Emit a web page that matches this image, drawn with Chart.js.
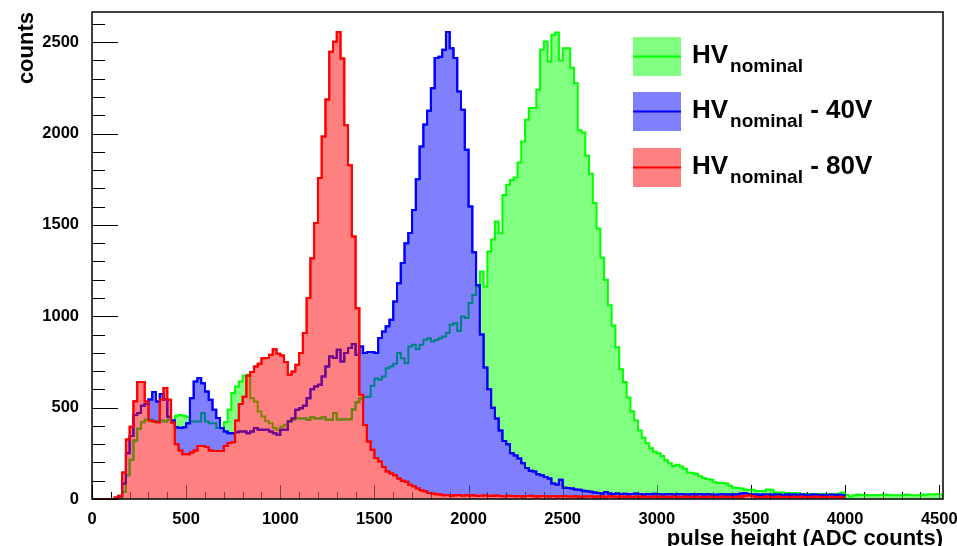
<!DOCTYPE html>
<html>
<head>
<meta charset="utf-8">
<script src="https://cdn.jsdelivr.net/npm/chart.js@4.4.0/dist/chart.umd.min.js"></script>
<style>
  html, body { margin: 0; padding: 0; background: #fff; }
  #wrap { width: 957px; height: 546px; }
</style>
</head>
<body>
<div id="wrap"><canvas id="pulseChart"></canvas></div>
<script>
// histogram binning (ADC counts)
const binWidth = 20;
const xMax = 4520;
const yMax = 2665;

// counts per 20-ADC bin
const hvNominal = [
  0,0,0,0,0,0,0,5,40,130,
  215,320,385,420,433,433,424,424,430,424,
  433,420,455,460,455,450,424,424,424,470,
  424,415,415,388,388,420,488,580,616,643,
  674,680,552,534,479,452,425,415,388,379,
  397,406,425,433,443,440,440,433,448,440,
  440,448,433,433,470,435,435,437,437,490,
  530,550,558,560,620,660,652,670,716,725,
  740,799,770,743,835,844,820,844,871,880,
  862,870,880,889,908,953,962,920,999,990,
  1072,1117,1163,1245,1163,1354,1420,1518,1454,1664,
  1720,1746,1760,1841,1956,2075,2139,2139,2239,2458,
  2503,2394,2540,2553,2400,2467,2467,2360,2275,2018,
  2005,1880,1780,1620,1480,1320,1200,1060,950,830,
  710,640,555,480,430,375,335,305,278,258,
  250,235,212,195,180,188,178,165,145,142,
  138,124,115,110,105,92,87,87,85,72,
  62,60,58,52,50,51,42,44,42,52,
  50,36,36,35,33,33,31,33,28,27,
  27,26,28,27,25,27,26,28,30,36,
  22,14,20,24,22,23,20,22,21,22,
  24,22,20,20,21,22,25,22,20,21,
  24,23,26,25,27,26
];

const hvMinus40 = [
  0,0,0,0,0,0,0,15,85,250,
  345,460,470,510,520,545,585,534,575,545,
  450,430,392,388,392,415,552,643,662,634,
  588,543,488,443,388,370,360,360,365,369,
  369,360,370,388,379,379,379,369,360,352,
  379,379,425,440,488,497,510,552,600,616,
  625,671,725,780,771,817,753,799,826,848,
  789,835,799,805,805,799,881,917,945,981,
  1081,1181,1291,1400,1455,1582,1750,1929,2050,2124,
  2248,2413,2420,2458,2555,2467,2413,2230,2130,1911,
  1601,1350,1170,900,720,600,500,440,375,318,
  300,250,238,222,195,170,155,150,135,130,
  120,112,85,80,105,62,60,58,52,50,
  45,42,40,35,33,30,38,30,28,30,
  27,29,26,28,30,27,25,28,26,29,
  27,25,26,28,24,26,27,25,24,26,
  25,27,24,26,25,23,25,26,24,25,
  24,26,30,32,28,25,24,23,25,24,
  23,25,24,22,24,23,25,22,24,23,
  22,24,23,21,23,22,24,22,23,22
];

const hvMinus80 = [
  0,0,0,0,0,0,8,18,145,325,
  395,535,640,640,534,430,425,420,545,607,
  543,418,300,265,245,245,255,265,290,290,
  285,265,262,262,262,290,306,310,430,520,
  560,675,695,725,740,770,771,790,820,795,
  785,750,680,698,735,799,908,1100,1318,1510,
  1756,1984,2186,2447,2502,2555,2410,2045,1827,1436,
  1044,570,405,315,270,225,205,175,150,140,
  130,112,100,95,78,70,58,48,42,33,
  30,26,24,20,22,18,20,22,18,20,
  19,21,17,18,20,16,18,19,17,15,
  18,16,15,17,14,16,18,15,14,16,
  15,13,17,14,15,16,13,14,15,12,
  14,13,15,12,14,13,12,15,13,12,
  14,12,13,11,14,12,13,12,11,13,
  12,14,11,12,13,11,12,14,12,11,
  13,12,11,12,14,12,11,13,12,12,
  11,13,12,18,20,16,12,11,12,13,
  11,12,13,11,12,12,11,13,12,11,
  12,11,13,12,11,12,12,11,12,11
];

const xTickValues = [0, 500, 1000, 1500, 2000, 2500, 3000, 3500, 4000, 4500];
const yTickValues = [0, 500, 1000, 1500, 2000, 2500];

// legend text: main, subscript, suffix
const legendText = [
  ['HV', 'nominal', ''],
  ['HV', 'nominal', ' - 40V'],
  ['HV', 'nominal', ' - 80V']
];

const FONT = '"Liberation Sans", Arial, Helvetica, sans-serif';

// line colour, fill colour, and how its line looks through the blue / red fills
const GREEN = { line: '#00ff00', fill: '#80ff80', underBlue: '#008080', underRed: '#808000' };
const BLUE = { line: '#0000ff', fill: '#8080ff', underRed: '#800080' };
const RED = { line: '#ff0000', fill: '#ff8080' };

// bin values -> points on the left bin edges, closed at the right edge
function toSteps(values) {
  const pts = values.map((v, i) => ({ x: i * binWidth, y: v }));
  pts.push({ x: values.length * binWidth, y: values[values.length - 1] });
  return pts;
}

function strokeTicks(chart) {
  const { ctx, chartArea: a, scales: { x, y } } = chart;
  ctx.beginPath();
  for (let v = 0; v <= 4500; v += 100) {
    const px = Math.round(x.getPixelForValue(v)) + 0.5;
    const len = v % 500 === 0 ? 14 : 7;
    ctx.moveTo(px, a.bottom);
    ctx.lineTo(px, a.bottom - len);
  }
  for (let v = 0; v <= 2600; v += 100) {
    const py = Math.round(y.getPixelForValue(v)) + 0.5;
    const len = v % 500 === 0 ? 26 : 13;
    ctx.moveTo(a.left, py);
    ctx.lineTo(a.left + len, py);
  }
  ctx.stroke();
}

// clip to the area under a dataset's step line
function clipUnder(chart, index) {
  const { ctx, scales: { y } } = chart;
  const el = chart.getDatasetMeta(index).dataset;
  const pts = el.points;
  const base = y.getPixelForValue(0);
  ctx.beginPath();
  el.path(ctx);
  ctx.lineTo(pts[pts.length - 1].x, base);
  ctx.lineTo(pts[0].x, base);
  ctx.closePath();
  ctx.clip();
}

function strokeLine(chart, index, color) {
  const { ctx } = chart;
  ctx.beginPath();
  chart.getDatasetMeta(index).dataset.path(ctx);
  ctx.strokeStyle = color;
  ctx.lineWidth = 2;
  ctx.stroke();
}

// ROOT style: ticks inside the frame, lower lines seen through the fills
const rootLook = {
  id: 'rootLook',
  beforeDatasetsDraw(chart) {
    const { ctx } = chart;
    ctx.save();
    ctx.strokeStyle = '#000';
    ctx.lineWidth = 1;
    strokeTicks(chart);
    ctx.restore();
  },
  afterDatasetsDraw(chart) {
    const { ctx, chartArea: a } = chart;
    ctx.save();
    ctx.beginPath();
    ctx.rect(a.left, a.top, a.right - a.left, a.bottom - a.top);
    ctx.clip();

    ctx.save();
    clipUnder(chart, 1);
    strokeLine(chart, 0, GREEN.underBlue);
    ctx.restore();
    strokeLine(chart, 1, BLUE.line);

    ctx.save();
    clipUnder(chart, 2);
    strokeLine(chart, 0, GREEN.underRed);
    strokeLine(chart, 1, BLUE.underRed);
    ctx.restore();
    strokeLine(chart, 2, RED.line);

    ctx.strokeStyle = 'rgba(0, 0, 0, 0.5)';
    ctx.lineWidth = 1;
    strokeTicks(chart);
    ctx.restore();

    ctx.save();
    ctx.strokeStyle = '#000';
    ctx.lineWidth = 1.5;
    ctx.strokeRect(a.left, a.top, a.right - a.left, a.bottom - a.top);
    ctx.restore();
  }
};

// titles and the legend with subscripts
const decorations = {
  id: 'decorations',
  afterDraw(chart) {
    const { ctx, chartArea: a } = chart;
    ctx.save();
    ctx.fillStyle = '#000';
    ctx.font = 'bold 22px ' + FONT;
    ctx.textBaseline = 'alphabetic';
    ctx.textAlign = 'right';
    ctx.fillText('pulse height (ADC counts)', a.right, 545);

    ctx.save();
    ctx.translate(33, a.top);
    ctx.rotate(-Math.PI / 2);
    ctx.textAlign = 'right';
    ctx.fillText('counts', 0, 0);
    ctx.restore();

    ctx.textAlign = 'left';
    const tops = [37, 92, 148];
    chart.data.datasets.forEach((ds, i) => {
      const top = tops[i];
      ctx.fillStyle = ds.backgroundColor;
      ctx.fillRect(633, top, 48, 39);
      ctx.strokeStyle = ds.borderColor;
      ctx.lineWidth = 2;
      ctx.beginPath();
      ctx.moveTo(633, top + 19.5);
      ctx.lineTo(681, top + 19.5);
      ctx.stroke();

      const [main, sub, suffix] = legendText[i];
      const base = top + 26;
      let tx = 692;
      ctx.fillStyle = '#000';
      ctx.font = 'bold 26px ' + FONT;
      ctx.fillText(main, tx, base);
      tx += ctx.measureText(main).width + 2;
      ctx.font = 'bold 19px ' + FONT;
      ctx.fillText(sub, tx, base + 9);
      tx += ctx.measureText(sub).width;
      ctx.font = 'bold 26px ' + FONT;
      ctx.fillText(suffix, tx, base);
    });
    ctx.restore();
  }
};

const ctx = document.getElementById('pulseChart').getContext('2d');

const pulseChart = new Chart(ctx, {
  type: 'line',
  data: {
    datasets: [
      {
        label: 'HV nominal',
        order: 2,
        data: toSteps(hvNominal),
        borderColor: GREEN.line,
        backgroundColor: GREEN.fill
      },
      {
        label: 'HV nominal - 40V',
        order: 1,
        data: toSteps(hvMinus40),
        borderColor: BLUE.line,
        backgroundColor: BLUE.fill
      },
      {
        label: 'HV nominal - 80V',
        order: 0,
        data: toSteps(hvMinus80),
        borderColor: RED.line,
        backgroundColor: RED.fill
      }
    ]
  },
  options: {
    responsive: true,
    maintainAspectRatio: false,
    devicePixelRatio: 1,
    animation: false,
    events: [],
    layout: { padding: { left: 0, top: 12, right: 14, bottom: 0 } },
    elements: {
      line: { stepped: 'before', borderWidth: 2, fill: 'origin', tension: 0, borderJoinStyle: 'miter' },
      point: { radius: 0 }
    },
    plugins: {
      legend: { display: false },
      tooltip: { enabled: false }
    },
    scales: {
      x: {
        type: 'linear',
        min: 0,
        max: xMax,
        grid: { display: false },
        border: { display: false },
        afterFit(s) {
          s.height = 47;
          s.paddingLeft = 0;
          s.paddingRight = 0;
        },
        afterBuildTicks(s) {
          s.ticks = xTickValues.map(v => ({ value: v }));
        },
        ticks: {
          autoSkip: false,
          maxRotation: 0,
          padding: 3,
          color: '#000',
          font: { family: FONT, size: 16.5, weight: 'bold' },
          callback: v => String(v)
        }
      },
      y: {
        type: 'linear',
        min: 0,
        max: yMax,
        grid: { display: false },
        border: { display: false },
        afterFit(s) {
          s.width = 92;
          s.paddingTop = 0;
          s.paddingBottom = 0;
        },
        afterBuildTicks(s) {
          s.ticks = yTickValues.map(v => ({ value: v }));
        },
        ticks: {
          padding: 5,
          color: '#000',
          font: { family: FONT, size: 16.5, weight: 'bold' },
          callback: v => String(v)
        }
      }
    }
  },
  plugins: [rootLook, decorations]
});
</script>
</body>
</html>
